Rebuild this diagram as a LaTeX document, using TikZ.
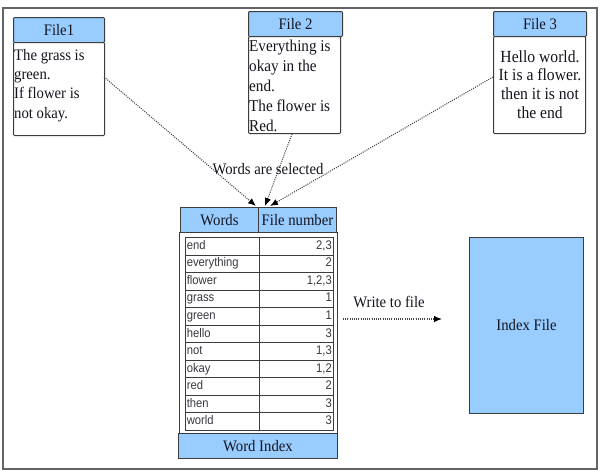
\documentclass[tikz,border=0pt]{standalone}
\usepackage{fontspec}
\setmainfont{Liberation Serif}[FakeStretch=0.92]
\newfontfamily\tabsans{Liberation Sans}[FakeStretch=0.9]
\usetikzlibrary{arrows.meta}
\definecolor{hblue}{RGB}{153,204,255}
\definecolor{edgec}{RGB}{60,60,60}
\definecolor{ink}{RGB}{20,20,30}
\definecolor{framec}{RGB}{100,100,100}
\definecolor{dotc}{RGB}{70,70,70}
\begin{document}
\begin{tikzpicture}[x=1pt,y=-1pt,
  hdr/.style={draw=edgec, line width=1pt, fill=hblue, anchor=north west, inner sep=0pt, rounded corners=1pt, font=\fontsize{16}{19}\selectfont, text=ink},
  bodybox/.style={draw=edgec, line width=1pt, fill=white, anchor=north west, inner sep=0pt, rounded corners=1pt},
  btext/.style={anchor=north west, inner sep=0pt, text=ink},
  cell/.style={draw=edgec, line width=0.7pt, anchor=north west, inner xsep=1.5pt, inner ysep=0pt, minimum height=17.545pt, text height=9pt, text depth=2.6pt, text width=71pt, font=\tabsans\fontsize{12.5}{14}\selectfont, text=ink!85},
  lbl/.style={inner sep=0pt, text=ink, font=\fontsize{16}{19}\selectfont},
  dotarrow/.style={draw=dotc, line width=1.1pt, dash pattern=on 1pt off 1.2pt, -{Latex[length=8pt,width=6.5pt,color=black,fill=black]}}
]
\useasboundingbox (0,0) rectangle (600,475);
\fill[white] (0,0) rectangle (600,475);
% frame
\draw[framec, line width=2pt] (3,8) rectangle (597,469);

% File 1
\node[hdr, minimum width=91pt, minimum height=25pt] (f1h) at (13,17) {File1};
\node[bodybox, minimum width=91pt, minimum height=93pt] (f1b) at (13,42) {};
\node[btext, align=left, font=\fontsize{16}{19.3}\selectfont] (f1t) at (14,49) {The grass is\\green.\\If flower is\\not okay.};

% File 2
\node[hdr, minimum width=94pt, minimum height=25pt] (f2h) at (248,11) {File 2};
\node[bodybox, minimum width=92pt, minimum height=97pt] (f2b) at (248,36) {};
\node[btext, align=left, font=\fontsize{16.5}{20}\selectfont] (f2t) at (249,40) {Everything is\\okay in the\\end.\\The flower is\\Red.};

% File 3
\node[hdr, minimum width=93pt, minimum height=25pt] (f3h) at (493,11) {File 3};
\node[bodybox, minimum width=92pt, minimum height=97pt] (f3b) at (493,36) {};
\node[btext, align=center, font=\fontsize{17}{18.8}\selectfont, anchor=north] (f3t) at (540,50) {Hello world.\\It is a flower.\\then it is not\\the end};

% table header
\node[hdr, rounded corners=0pt, minimum width=78pt, minimum height=25pt] (wh1) at (180,207) {Words};
\node[hdr, rounded corners=0pt, minimum width=78pt, minimum height=25pt] (wh2) at (258,207) {File number};
% table body frame
\node[draw=edgec, line width=1pt, fill=white, anchor=north west, inner sep=0pt, minimum width=158pt, minimum height=201pt] (tbody) at (179,232) {};
% rows
\foreach \w/\n [count=\i] in {end/{2,3},everything/2,flower/{1,2,3},grass/1,green/1,hello/3,not/{1,3},okay/{1,2},red/2,then/3,world/3}{
  \pgfmathsetmacro\yy{237+(\i-1)*17.545}
  \node[cell, align=left] (w\i) at (185,\yy) {\w};
  \node[cell, align=right] (n\i) at (259,\yy) {\n};
}
% word index
\node[hdr, rounded corners=0pt, minimum width=159pt, minimum height=25pt] (widx) at (178,433) {Word Index};

% index file
\node[hdr, rounded corners=0pt, minimum width=114pt, minimum height=176pt] (ifile) at (469,237) {Index File};

% connectors
\coordinate (a1) at (104,77);
\coordinate (a2) at (292,134);
\coordinate (a3) at (493,77);
\coordinate (t1) at (256,206);
\coordinate (t2) at (265,206);
\coordinate (t3) at (270,206);
\draw[dotarrow] (a1) -- (t1);
\draw[dotarrow] (a2) -- (t2);
\draw[dotarrow] (a3) -- (t3);
\node[lbl] (sel) at (268,169) {Words are selected};

\coordinate (ws) at (343,319);
\coordinate (we) at (442,319);
\draw[dotarrow] (ws) -- (we);
\node[lbl] (wtf) at (389,302) {Write to file};
\end{tikzpicture}
\end{document}
